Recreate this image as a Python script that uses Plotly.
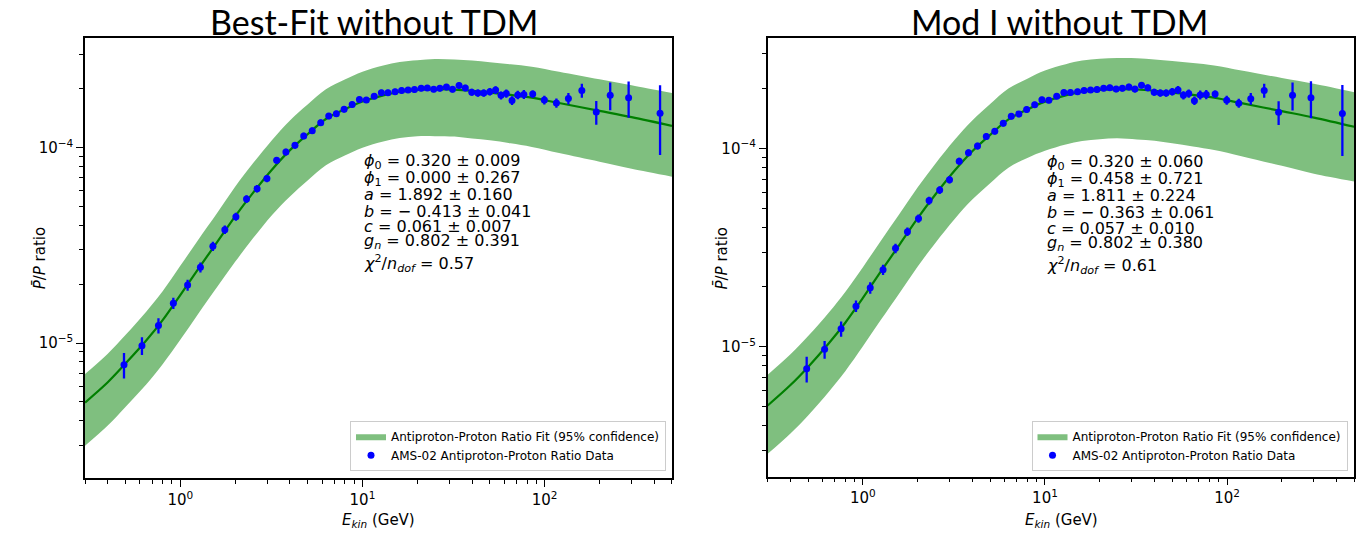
import plotly.graph_objects as go

W, H = 1370, 533
FONT = "DejaVu Sans"

# ---------------- data ----------------
energy_gev = [0.491, 0.616, 0.759, 0.916, 1.097, 1.29, 1.51, 1.756, 2.02, 2.31,
              2.64, 2.99, 3.38, 3.80, 4.26, 4.76, 5.30, 5.90, 6.53, 7.19,
              7.93, 8.78, 9.62, 10.5, 11.6, 12.7, 13.8, 15.1, 16.4, 17.8,
              19.3, 21.0, 22.7, 24.6, 26.6, 28.9, 31.2, 33.9, 36.7, 39.8,
              43.0, 46.3, 50.0, 53.8, 57.6, 61.6, 66.2, 71.2, 76.9, 86.0,
              99.6, 116, 135, 160, 192, 229, 289, 430]
ratio_1e5 = [0.774, 0.969, 1.23, 1.60, 1.98, 2.44, 3.13, 3.80, 4.43, 5.45,
             6.16, 6.94, 8.61, 9.49, 10.27, 11.47, 12.2, 13.4, 14.5, 14.9,
             15.7, 16.6, 17.6, 17.5, 18.3, 19.1, 19.1, 19.3, 19.6, 19.7,
             19.8, 20.1, 20.2, 19.9, 20.1, 20.4, 19.9, 20.8, 20.2, 19.2,
             19.0, 19.0, 19.3, 19.7, 18.5, 18.9, 17.4, 18.6, 18.7, 18.8,
             17.5, 16.9, 17.8, 19.6, 15.2, 18.5, 18.0, 15.0]
err_1e5 = [0.115, 0.10, 0.11, 0.107, 0.13, 0.145, 0.17, 0.19, 0.21, 0.25,
           0.27, 0.3, 0.35, 0.38, 0.4, 0.44, 0.46, 0.5, 0.53, 0.55,
           0.57, 0.6, 0.62, 0.62, 0.64, 0.66, 0.66, 0.67, 0.68, 0.69,
           0.7, 0.71, 0.72, 0.72, 0.73, 0.75, 0.75, 0.78, 0.78, 0.78,
           0.8, 0.82, 0.85, 0.9, 0.88, 0.92, 0.88, 0.95, 1.0, 0.8,
           0.9, 0.9, 1.2, 1.6, 2.1, 3.0, 3.8, 5.85]

fit_e = [0.3, 0.4, 0.5, 0.65, 0.8, 1.0, 1.25, 1.6, 2.0, 2.5, 3.2, 4.0, 5.0, 6.3, 8.0,
         10, 13, 16, 20, 25, 32, 40, 50, 65, 85, 120, 200, 300, 500]

best_center = [4.96e-6, 6.3e-6, 7.85e-6, 1.03e-5, 1.31e-5, 1.76e-5, 2.38e-5, 3.30e-5,
               4.45e-5, 5.85e-5, 7.75e-5, 9.7e-5, 1.17e-4, 1.40e-4, 1.57e-4, 1.72e-4,
               1.85e-4, 1.93e-4, 1.97e-4, 1.99e-4, 1.98e-4, 1.95e-4, 1.91e-4, 1.86e-4,
               1.80e-4, 1.69e-4, 1.54e-4, 1.43e-4, 1.29e-4]
best_upper = [6.94e-6, 8.82e-6, 1.099e-5, 1.447e-5, 1.841e-5, 2.482e-5, 3.356e-5, 4.653e-5,
              6.297e-5, 8.278e-5, 1.097e-4, 1.377e-4, 1.661e-4, 1.988e-4, 2.229e-4, 2.442e-4,
              2.627e-4, 2.741e-4, 2.797e-4, 2.836e-4, 2.822e-4, 2.789e-4, 2.731e-4, 2.669e-4,
              2.592e-4, 2.442e-4, 2.233e-4, 2.081e-4, 1.90e-4]
best_lower = [2.98e-6, 3.78e-6, 4.71e-6, 6.13e-6, 7.79e-6, 1.038e-5, 1.404e-5, 1.947e-5,
              2.603e-5, 3.422e-5, 4.534e-5, 5.626e-5, 6.786e-5, 8.12e-5, 9.106e-5, 9.976e-5,
              1.073e-4, 1.119e-4, 1.143e-4, 1.144e-4, 1.139e-4, 1.112e-4, 1.089e-4, 1.051e-4,
              1.008e-4, 9.38e-5, 8.47e-5, 7.79e-5, 7.1e-5]

mod_center = [5.05e-6, 6.4e-6, 7.9e-6, 1.04e-5, 1.32e-5, 1.76e-5, 2.38e-5, 3.30e-5,
              4.45e-5, 5.85e-5, 7.75e-5, 9.7e-5, 1.17e-4, 1.40e-4, 1.57e-4, 1.72e-4,
              1.85e-4, 1.93e-4, 1.97e-4, 1.99e-4, 1.98e-4, 1.95e-4, 1.91e-4, 1.86e-4,
              1.80e-4, 1.69e-4, 1.54e-4, 1.43e-4, 1.285e-4]
mod_upper = [7.22e-6, 9.15e-6, 1.13e-5, 1.487e-5, 1.888e-5, 2.517e-5, 3.403e-5, 4.719e-5,
             6.364e-5, 8.366e-5, 1.108e-4, 1.387e-4, 1.673e-4, 2.002e-4, 2.245e-4, 2.468e-4,
             2.655e-4, 2.770e-4, 2.827e-4, 2.856e-4, 2.851e-4, 2.808e-4, 2.760e-4, 2.697e-4,
             2.619e-4, 2.467e-4, 2.264e-4, 2.116e-4, 1.92e-4]
mod_lower = [2.88e-6, 3.65e-6, 4.50e-6, 5.93e-6, 7.52e-6, 1.003e-5, 1.357e-5, 1.881e-5,
             2.537e-5, 3.335e-5, 4.418e-5, 5.529e-5, 6.669e-5, 7.98e-5, 8.95e-5, 9.72e-5,
             1.045e-4, 1.090e-4, 1.113e-4, 1.124e-4, 1.109e-4, 1.092e-4, 1.060e-4, 1.023e-4,
             9.81e-5, 9.13e-5, 8.16e-5, 7.44e-5, 6.8e-5]

titles = ["Best-Fit without TDM", "Mod I without TDM"]
best_text = ["<i>ϕ</i><sub>0</sub> = 0.320 ± 0.009",
             "<i>ϕ</i><sub>1</sub> = 0.000 ± 0.267",
             "<i>a</i> = 1.892 ± 0.160",
             "<i>b</i> = − 0.413 ± 0.041",
             "<i>c</i> = 0.061 ± 0.007",
             "<i>g<sub>n</sub></i> = 0.802 ± 0.391",
             "<i>χ</i><sup>2</sup>/<i>n<sub>dof</sub></i> = 0.57"]
mod_text = ["<i>ϕ</i><sub>0</sub> = 0.320 ± 0.060",
            "<i>ϕ</i><sub>1</sub> = 0.458 ± 0.721",
            "<i>a</i> = 1.811 ± 0.224",
            "<i>b</i> = − 0.363 ± 0.061",
            "<i>c</i> = 0.057 ± 0.010",
            "<i>g<sub>n</sub></i> = 0.802 ± 0.380",
            "<i>χ</i><sup>2</sup>/<i>n<sub>dof</sub></i> = 0.61"]
band_name = "Antiproton-Proton Ratio Fit (95% confidence)"
data_name = "AMS-02 Antiproton-Proton Ratio Data"
x_label = "<i>E<sub>kin</sub></i> (GeV)"
y_label = "<i>P̄</i>/<i>P</i> ratio"
x_tickvals = [1, 10, 100]
x_ticktext = ["10<sup>0</sup>", "10<sup>1</sup>", "10<sup>2</sup>"]
y_tickvals = [1e-5, 1e-4]
y_ticktext = ["10<sup>−5</sup>", "10<sup>−4</sup>"]

ratio = [v * 1e-5 for v in ratio_1e5]
err = [v * 1e-5 for v in err_1e5]

# ---------------- layout geometry (pixels) ----------------
panels = [
    dict(box=(85, 672, 38.3, 478.3), yrange=[-5.692, -3.441], center=best_center,
         upper=best_upper, lower=best_lower, text=best_text, text_x=362,
         text_y=[161.7, 178.3, 194.5, 211, 226.7, 242, 263.5], title_x=374,
         ylab_x=40, legend_box=(666, 470.7)),
    dict(box=(767.7, 1354.3, 38.3, 476.7), yrange=[-5.656, -3.445], center=mod_center,
         upper=mod_upper, lower=mod_lower, text=mod_text, text_x=1045,
         text_y=[162.7, 179.3, 196, 212.7, 228.3, 243.5, 265], title_x=1059,
         ylab_x=722, legend_box=(1347.5, 470.7)),
]

minor_x = [m * d for d in (0.1, 1, 10, 100) for m in range(2, 10) if 0.3 <= m * d <= 500]
minor_y = [m * d for d in (1e-6, 1e-5, 1e-4) for m in range(2, 10) if 2e-6 <= m * d <= 3.6e-4]

BAND = "rgb(127,191,127)"
fig = go.Figure()
annotations = []
layout = {}

for i, p in enumerate(panels):
    sfx = "" if i == 0 else str(i + 1)
    xa, ya = "x" + sfx, "y" + sfx
    leg = "legend" if i == 0 else "legend2"
    x0, x1, y0, y1 = p["box"]

    fig.add_trace(go.Scatter(x=fit_e, y=p["lower"], mode="lines", line=dict(width=0, shape="spline"),
                             xaxis=xa, yaxis=ya, showlegend=False, hoverinfo="skip"))
    fig.add_trace(go.Scatter(x=fit_e, y=p["upper"], mode="lines", line=dict(width=0, shape="spline"),
                             fill="tonexty", fillcolor=BAND, name=band_name, legend=leg,
                             xaxis=xa, yaxis=ya, hoverinfo="skip"))
    fig.add_trace(go.Scatter(x=fit_e, y=p["center"], mode="lines",
                             line=dict(color="#008000", width=2.2, shape="spline"),
                             xaxis=xa, yaxis=ya, showlegend=False))
    fig.add_trace(go.Scatter(x=energy_gev, y=ratio, mode="markers", name=data_name, legend=leg,
                             marker=dict(color="#0000ff", size=7),
                             error_y=dict(type="data", array=err, color="#0000ff", thickness=2.3, width=0),
                             xaxis=xa, yaxis=ya))

    axis_common = dict(showline=True, linecolor="black", linewidth=1.5, mirror=True,
                       showgrid=False, zeroline=False, ticks="outside", ticklen=7, tickwidth=1.2,
                       tickcolor="black", tickfont=dict(family=FONT, size=15, color="black"))
    layout["xaxis" + sfx] = dict(axis_common, type="log", range=[-0.523, 2.699],
                                 domain=[x0 / W, x1 / W], anchor=ya,
                                 tickmode="array", tickvals=x_tickvals, ticktext=x_ticktext,
                                 minor=dict(tickmode="array", tickvals=minor_x, ticks="outside",
                                            ticklen=4, tickwidth=1, tickcolor="black"))
    layout["yaxis" + sfx] = dict(axis_common, type="log", range=p["yrange"],
                                 domain=[1 - y1 / H, 1 - y0 / H], anchor=xa,
                                 tickmode="array", tickvals=y_tickvals, ticktext=y_ticktext,
                                 minor=dict(tickmode="array", tickvals=minor_y, ticks="outside",
                                            ticklen=4, tickwidth=1, tickcolor="black"))
    lx, lyb = p["legend_box"]
    layout[leg] = dict(x=lx / W, xanchor="right", y=1 - lyb / H, yanchor="bottom",
                       bgcolor="rgba(255,255,255,0.8)", bordercolor="#cccccc", borderwidth=1,
                       font=dict(family=FONT, size=12, color="black"), tracegroupgap=0,
                       traceorder="normal")

    for t, ty in zip(p["text"], p["text_y"]):
        annotations.append(dict(text=t, x=p["text_x"] / W, y=1 - ty / H, xref="paper", yref="paper",
                                xanchor="left", yanchor="middle", showarrow=False,
                                font=dict(family=FONT, size=16, color="black")))
    annotations.append(dict(text=titles[i], x=p["title_x"] / W, y=1 - 21 / H, xref="paper", yref="paper",
                            xanchor="center", yanchor="middle", showarrow=False,
                            font=dict(family="Lato", size=34, color="black")))
    annotations.append(dict(text=x_label, x=(x0 + x1) / 2 / W, y=1 - 520 / H, xref="paper", yref="paper",
                            xanchor="center", yanchor="middle", showarrow=False,
                            font=dict(family=FONT, size=15, color="black")))
    annotations.append(dict(text=y_label, x=p["ylab_x"] / W, y=1 - (y0 + y1) / 2 / H, xref="paper",
                            yref="paper", xanchor="center", yanchor="middle", showarrow=False,
                            textangle=-90, font=dict(family=FONT, size=15, color="black")))

fig.update_layout(width=W, height=H, margin=dict(l=0, r=0, t=0, b=0), paper_bgcolor="white",
                  plot_bgcolor="white", showlegend=True, annotations=annotations, **layout)

fig.write_html("out.html")
